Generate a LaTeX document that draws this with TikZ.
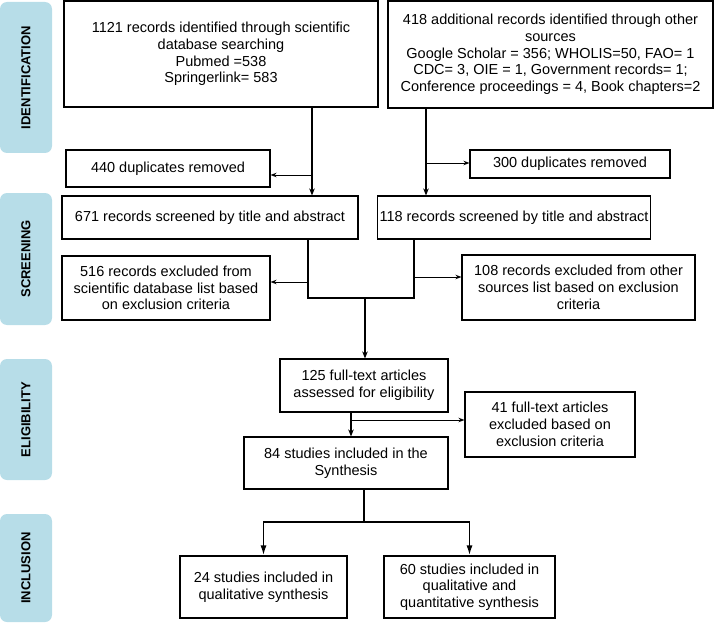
\documentclass[tikz,border=0pt]{standalone}
\usepackage{fontspec}
\setmainfont{Liberation Sans}
\usetikzlibrary{arrows.meta}
\definecolor{phasecol}{RGB}{183,221,232}
\begin{document}
\begin{tikzpicture}[x=1pt,y=-1pt,
    box/.style={draw,line width=1.1pt,align=center,inner sep=2pt,
      font=\fontsize{14.5}{16.7}\selectfont},
    phase/.style={fill=phasecol,rounded corners=7pt,inner sep=0pt,
      minimum height=52pt,rotate=90,font=\bfseries\fontsize{13}{15}\selectfont},
    thin/.style={line width=0.9pt,-{Stealth[length=6pt,width=4.5pt]}},
    main/.style={line width=1.3pt,-{Stealth[length=7pt,width=5.5pt]}},
    split/.style={line width=1.7pt,-{Latex[length=10pt,width=6pt]}}]
  \useasboundingbox (0,0) rectangle (715,623);
  \node[phase,minimum width=151pt] (ph1) at (26,77.5) {IDENTIFICATION};
  \node[phase,minimum width=132pt] (ph2) at (26,259) {SCREENING};
  \node[phase,minimum width=121pt] (ph3) at (26,419.5) {ELIGIBILITY};
  \node[phase,minimum width=108pt] (ph4) at (26,568) {INCLUSION};
  \node[box,minimum width=314pt,minimum height=106pt] (idA) at (221,54)
    {1121 records identified through scientific\\database searching\\Pubmed =538\\Springerlink= 583};
  \node[box,minimum width=325pt,minimum height=107pt] (idB) at (550.5,54.5)
    {418 additional records identified through other\\sources\\Google Scholar = 356; WHOLIS=50, FAO= 1\\CDC= 3, OIE = 1, Government records= 1;\\Conference proceedings = 4, Book chapters=2};
  \node[box,minimum width=204pt,minimum height=37pt] (dupA) at (168,168.5) {440 duplicates removed};
  \node[box,minimum width=200pt,minimum height=28pt] (dupB) at (570,164) {300 duplicates removed};
  \node[box,minimum width=296pt,minimum height=43pt] (scrA) at (210,217.5) {671 records screened by title and abstract};
  \node[box,minimum width=272pt,minimum height=43pt] (scrB) at (514,217.5) {118 records screened by title and abstract};
  \node[box,minimum width=208pt,minimum height=64pt] (excA) at (166,288)
    {516 records excluded from\\scientific database list based\\on exclusion criteria};
  \node[box,minimum width=233pt,minimum height=65pt] (excB) at (578.5,287.5)
    {108 records excluded from other\\sources list based on exclusion\\criteria};
  \node[box,minimum width=168pt,minimum height=53pt] (full) at (364,385.5)
    {125 full-text articles\\assessed for eligibility};
  \node[box,minimum width=170pt,minimum height=65pt] (excC) at (550,424.5)
    {41 full-text articles\\excluded based on\\exclusion criteria};
  \node[box,minimum width=204pt,minimum height=52pt] (incl) at (346,463)
    {84 studies included in the\\Synthesis};
  \node[box,minimum width=167pt,minimum height=62pt] (qual) at (263.5,587)
    {24 studies included in\\qualitative synthesis};
  \node[box,minimum width=171pt,minimum height=62pt] (quant) at (469.5,587)
    {60 studies included in\\qualitative and\\quantitative synthesis};
  \coordinate (jA) at (312,175);
  \coordinate (jB) at (426,163);
  \coordinate (jC) at (308,282);
  \coordinate (jD) at (414,277);
  \coordinate (m) at (365,298);
  \coordinate (jE) at (351,420);
  \coordinate (jF) at (364,522);
  \begin{scope}[line width=1.1pt]
    \draw[main] (idA.south -| jA) -- (scrA.north -| jA);
    \draw[thin] (jA) -- (jA -| dupA.east);
    \draw[main] (idB.south -| jB) -- (scrB.north -| jB);
    \draw[thin] (jB) -- (jB -| dupB.west);
    \draw (scrA.south -| jC) -- (jC |- m) -- (jD |- m) -- (scrB.south -| jD);
    \draw[thin] (jC) -- (jC -| excA.east);
    \draw[thin] (jD) -- (jD -| excB.west);
    \draw[main] (m) -- (full.north -| m);
    \draw[main] (full.south -| jE) -- (incl.north -| jE);
    \draw[thin] (jE) -- (jE -| excC.west);
    \draw (incl.south -| jF) -- (jF);
    \draw[split] (jF) -| (qual.north);
    \draw[split] (jF) -| (quant.north);
  \end{scope}
\end{tikzpicture}
\end{document}
